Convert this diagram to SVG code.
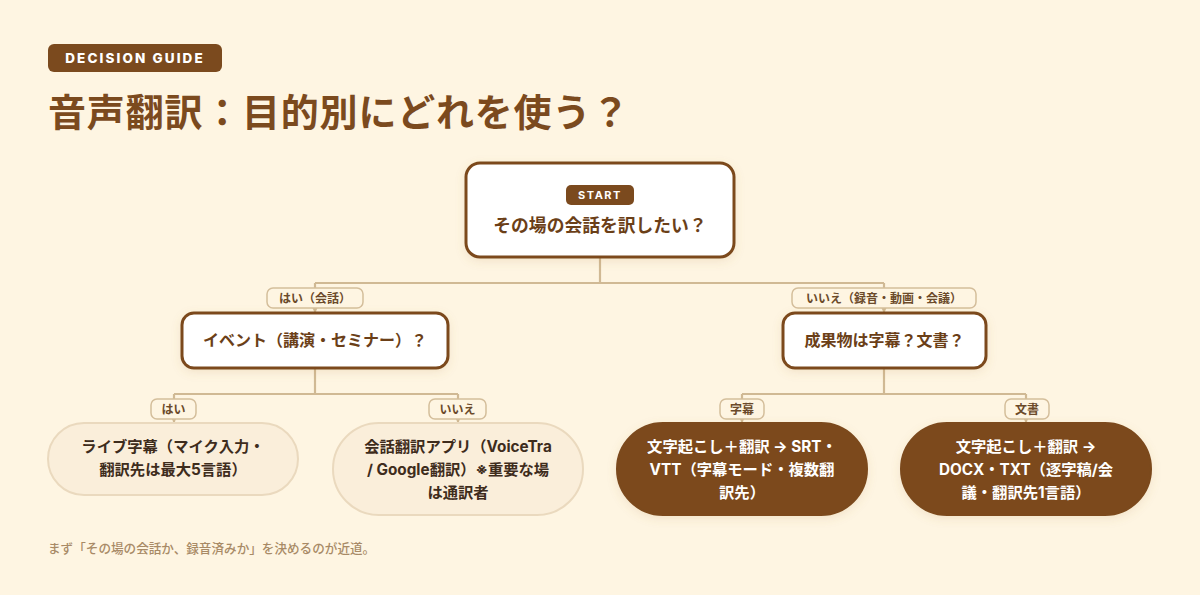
<svg xmlns="http://www.w3.org/2000/svg" width="1200" height="595" viewBox="0 0 1200 595">
<defs>
<style>
text{font-family:Inter,"Noto Sans CJK JP","Noto Sans",sans-serif;font-weight:700}
.bg{fill:#FEF5E2}
.badge{fill:#7B4A1E}
.badgeT{fill:#FFFFFF;font-size:13.5px;letter-spacing:2.1px;font-weight:800}
.title{fill:#7B4A1E;font-size:38px;letter-spacing:0.8px}
.q{fill:#FFFFFF;stroke:#7B4A1E;stroke-width:3}
.qT{fill:#6B3F18;font-size:16px;text-anchor:middle}
.lbl{fill:#FEF5E2;stroke:#D4BE9B;stroke-width:1.5}
.lblT{fill:#6B4A2A;font-size:12px;text-anchor:middle}
.conn{fill:none;stroke:#D0B994;stroke-width:2.2}
.leafL{fill:#FAEEDA;stroke:#EAD9BE;stroke-width:2}
.leafLT{fill:#3E2C1C;font-size:15.3px;text-anchor:middle}
.leafD{fill:#7B4A1E;stroke:#7B4A1E;stroke-width:2}
.leafDT{fill:#FFFFFF;font-size:15.3px;text-anchor:middle}
.foot{fill:#A88A66;font-size:12.6px;font-weight:500}
</style>
<marker id="arr" viewBox="0 0 10 10" refX="9" refY="5" markerWidth="5" markerHeight="5" orient="auto">
<path d="M0,0 L10,5 L0,10 z" fill="#D0B994"/>
</marker>
<filter id="sh" x="-20%" y="-30%" width="140%" height="160%">
<feDropShadow dx="0" dy="3" stdDeviation="5" flood-color="#B08040" flood-opacity="0.15"/>
</filter>
</defs>
<rect class="bg" x="0" y="0" width="1200" height="595"/>

<g id="header">
<rect class="badge" x="48" y="44" width="174" height="28" rx="6"/>
<text class="badgeT" x="135" y="63" text-anchor="middle">DECISION GUIDE</text>
<text class="title" x="48" y="126">音声翻訳：目的別にどれを使う？</text>
</g>

<g id="connectors">
<path class="conn" d="M600,257 V283 M315,283 H884 M315,283 V312" marker-end="url(#arr)"/>
<path class="conn" d="M884,283 V312" marker-end="url(#arr)"/>
<path class="conn" d="M315,368 V394 M174,394 H458 M174,394 V422" marker-end="url(#arr)"/>
<path class="conn" d="M458,394 V422" marker-end="url(#arr)"/>
<path class="conn" d="M884,368 V394 M742,394 H1026 M742,394 V422" marker-end="url(#arr)"/>
<path class="conn" d="M1026,394 V422" marker-end="url(#arr)"/>
</g>

<g id="edge-labels">
<g id="lbl-yes-conv"><rect class="lbl" x="267" y="288" width="96" height="20" rx="6"/><text class="lblT" x="315" y="302.5">はい（会話）</text></g>
<g id="lbl-no-rec"><rect class="lbl" x="792" y="288" width="184" height="20" rx="6"/><text class="lblT" x="884" y="302.5">いいえ（録音・動画・会議）</text></g>
<g id="lbl-yes"><rect class="lbl" x="151" y="399" width="45" height="20" rx="6"/><text class="lblT" x="173.5" y="413.5">はい</text></g>
<g id="lbl-no"><rect class="lbl" x="429" y="399" width="57" height="20" rx="6"/><text class="lblT" x="457.5" y="413.5">いいえ</text></g>
<g id="lbl-sub"><rect class="lbl" x="720" y="399" width="44" height="20" rx="6"/><text class="lblT" x="742" y="413.5">字幕</text></g>
<g id="lbl-doc"><rect class="lbl" x="1005" y="399" width="44" height="20" rx="6"/><text class="lblT" x="1027" y="413.5">文書</text></g>
</g>

<g id="start">
<rect class="q" x="466" y="163" width="268" height="94" rx="14" filter="url(#sh)"/>
<rect class="badge" x="566" y="185" width="68" height="20" rx="5"/>
<text x="600" y="199" fill="#FFFFFF" font-size="11" font-weight="800" text-anchor="middle" letter-spacing="1.5">START</text>
<text class="qT" x="600" y="232" style="font-size:17.8px">その場の会話を訳したい？</text>
</g>

<g id="q-event">
<rect class="q" x="182" y="313" width="266" height="55" rx="12" filter="url(#sh)"/>
<text class="qT" x="315" y="346">イベント（講演・セミナー）？</text>
</g>

<g id="q-output">
<rect class="q" x="783" y="313" width="203" height="55" rx="12" filter="url(#sh)"/>
<text class="qT" x="884.5" y="346">成果物は字幕？文書？</text>
</g>

<g id="leaf-live">
<rect class="leafL" x="48" y="423" width="250" height="72" rx="36"/>
<text class="leafLT" x="173" y="452">ライブ字幕（マイク入力・</text>
<text class="leafLT" x="173" y="475">翻訳先は最大5言語）</text>
</g>

<g id="leaf-app">
<rect class="leafL" x="333" y="423" width="250" height="92" rx="46"/>
<text class="leafLT" x="458" y="452">会話翻訳アプリ（VoiceTra</text>
<text class="leafLT" x="458" y="475">/ Google翻訳）※重要な場</text>
<text class="leafLT" x="458" y="498">は通訳者</text>
</g>

<g id="leaf-srt">
<rect class="leafD" x="617" y="423" width="250" height="92" rx="46" filter="url(#sh)"/>
<text class="leafDT" x="742" y="452">文字起こし＋翻訳 → SRT・</text>
<text class="leafDT" x="742" y="475">VTT（字幕モード・複数翻</text>
<text class="leafDT" x="742" y="498">訳先）</text>
</g>

<g id="leaf-docx">
<rect class="leafD" x="901" y="423" width="250" height="92" rx="46" filter="url(#sh)"/>
<text class="leafDT" x="1026" y="452">文字起こし＋翻訳 →</text>
<text class="leafDT" x="1026" y="475">DOCX・TXT（逐字稿/会</text>
<text class="leafDT" x="1026" y="498">議・翻訳先1言語）</text>
</g>

<g id="footer">
<text class="foot" x="48" y="553">まず「その場の会話か、録音済みか」を決めるのが近道。</text>
</g>
</svg>
